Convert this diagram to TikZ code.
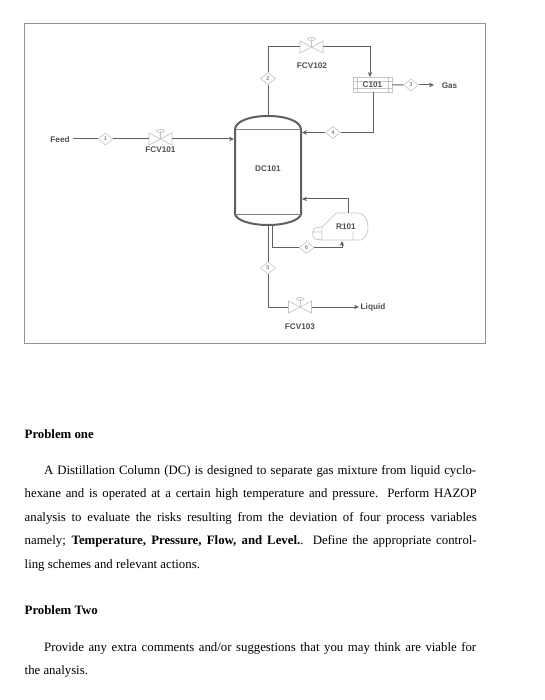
\documentclass[tikz,border=0pt]{standalone}
\usepackage{fontspec}
\setmainfont{Liberation Serif}
\setsansfont{Liberation Sans}
\usetikzlibrary{arrows.meta,shapes.geometric}
\definecolor{pipe}{HTML}{606060}
\definecolor{pale}{HTML}{C4C4C4}
\definecolor{lab}{HTML}{505050}
\tikzset{
  pipeline/.style={draw=pipe,line width=1pt},
  flow/.style={pipeline,-{Stealth[length=5pt,width=4.5pt]}},
  tag/.style={diamond,draw=pale,fill=white,line width=0.6pt,inner sep=0pt,minimum width=15pt,minimum height=12pt,font=\sffamily\fontsize{5.5}{6}\selectfont,text=lab},
  equip/.style={draw=pale,line width=0.7pt},
  lbl/.style={font=\sffamily\bfseries\fontsize{8.2}{10}\selectfont,text=lab,inner sep=0pt},
  body/.style={font=\fontsize{12.8}{15}\selectfont,text=black,inner sep=0pt,anchor=base west},
  valvebox/.style={minimum width=23pt,minimum height=12pt,inner sep=0pt},
  pics/valveicon/.style={code={
    \draw[equip] (-11.5,-6)--(11.5,6)--(11.5,-6)--(-11.5,6)--cycle;
    \draw[equip] (0,0)--(0,-8);
    \draw[equip] (0,-8) ellipse (4 and 1.6);
  }}
}
\begin{document}
\begin{tikzpicture}[x=1pt,y=-1pt]
\useasboundingbox (0,0) rectangle (545,700);
\fill[white] (0,0) rectangle (545,700);
\draw[draw=gray!85,line width=0.8pt] (24.5,23.5) rectangle (485,343);

% valves
\node[valvebox] (v1) at (160.5,139) {}; \pic at (160.5,139) {valveicon};
\node[valvebox] (v2) at (311.5,47) {}; \pic at (311.5,47) {valveicon};
\node[valvebox] (v3) at (300,307) {}; \pic at (300,307) {valveicon};

% column
\node[minimum width=67pt,minimum height=110pt,inner sep=0pt] (dc) at (268,170.5) {};
\node[lbl] (dclabel) at (268,169) {DC101};
\draw[draw=pipe,line width=2pt] (235,129) .. controls (236,121) and (250,116) .. (268,116) .. controls (286,116) and (300,121) .. (301,129) -- (301,214) .. controls (300,220) and (286,225) .. (268,225) .. controls (250,225) and (236,220) .. (235,214) -- cycle;
\draw[draw=gray,line width=0.7pt] (235,129) -- (301,129) (235,214) -- (301,214);

% C101
\node[draw=pale,line width=0.7pt,minimum width=39pt,minimum height=15pt,inner sep=0pt] (c1) at (372.5,84.5) {};
\draw[equip] (357,77)--(357,92) (388,77)--(388,92) (353,81)--(392,81) (353,88)--(392,88);
\node[lbl] (c1label) at (372.5,84.5) {C101};

% R101
\node[minimum width=56pt,minimum height=27pt,inner sep=0pt] (r1) at (340,227) {};
\draw[equip] (336,213) -- (358,213) .. controls (365,214) and (368,220) .. (368,227) .. controls (368,233) and (366,238) .. (361,240) -- (322,240) -- (322,227) -- (336,213)
  (322,227) -- (315,228) .. controls (312,229) and (312,238) .. (315,239) -- (322,240)
  (312,232) -- (322,232) (353,232) -- (353,240);
\node[lbl] (r1label) at (346,227) {R101};

% free labels
\node[lbl] (feed) at (60,139.5) {Feed};
\node[lbl] (gas) at (449.5,86) {Gas};
\node[lbl] (liquid) at (373,307) {Liquid};
\node[lbl] (l1) at (160.5,149.5) {FCV101};
\node[lbl] (l2) at (312,66) {FCV102};
\node[lbl] (l3) at (300,327) {FCV103};

% tags
\node[tag] (d1) at (105.5,139) {1};
\node[tag] (d2) at (268,78.5) {2};
\node[tag] (d3) at (411,85) {3};
\node[tag] (d4) at (333,132.5) {4};
\node[tag] (d5) at (268,268) {5};
\node[tag] (d6) at (306.5,247.5) {6};

% connectors
\coordinate (a1) at (268,116);
\coordinate (a2) at (268,47);
\coordinate (a3) at (370,47);
\coordinate (a4) at (373,132.5);
\coordinate (a5) at (302,132.5);
\coordinate (a6) at (434,85);
\coordinate (a7) at (348,213);
\coordinate (a8) at (348,199);
\coordinate (a9) at (302,199);
\coordinate (a10) at (272,225);
\coordinate (a11) at (272,247.5);
\coordinate (a12) at (342,247.5);
\coordinate (a13) at (342,241);
\coordinate (a14) at (268,225);
\coordinate (a15) at (268,307);
\coordinate (a16) at (359,307);
\coordinate (a17) at (234,139);
\coordinate (a18) at (373,92);
\coordinate (a19) at (370,77);
\coordinate (a20) at (73,139);

\draw[pipeline] (a20) -- (d1);
\draw[pipeline] (d1) -- (v1);
\draw[flow] (v1) -- (a17);
\draw[pipeline] (a1) -- (d2);
\draw[pipeline] (d2) -- (a2) -- (v2);
\draw[flow] (v2) -- (a3) -- (a19);
\draw[pipeline] (c1) -- (d3);
\draw[flow] (d3) -- (a6);
\draw[pipeline] (a18) -- (a4) -- (d4);
\draw[flow] (d4) -- (a5);
\draw[flow] (a7) -- (a8) -- (a9);
\draw[pipeline] (a10) -- (a11) -- (d6);
\draw[flow] (d6) -- (a12) -- (a13);
\draw[pipeline] (a14) -- (d5);
\draw[pipeline] (d5) -- (a15) -- (v3);
\draw[flow] (v3) -- (a16);

% text
\node[body,font=\fontsize{12.8}{15}\selectfont\bfseries] (p1) at (24.5,438) {Problem one};
\node[body] (t1) at (44,474) {\makebox[432pt][s]{A Distillation Column (DC) is designed to separate gas mixture from liquid cyclo-}};
\node[body] (t2) at (24.5,497) {\makebox[452pt][s]{hexane and is operated at a certain high temperature and pressure. Perform HAZOP}};
\node[body] (t3) at (24.5,521) {\makebox[452pt][s]{analysis to evaluate the risks resulting from the deviation of four process variables}};
\node[body] (t4) at (24.5,544) {\makebox[452pt][s]{namely; \textbf{Temperature, Pressure, Flow, and Level.}. Define the appropriate control-}};
\node[body] (t5) at (24.5,568) {ling schemes and relevant actions.};
\node[body,font=\fontsize{12.8}{15}\selectfont\bfseries] (p2) at (24.5,614) {Problem Two};
\node[body] (t6) at (44,651) {\makebox[432pt][s]{Provide any extra comments and/or suggestions that you may think are viable for}};
\node[body] (t7) at (24.5,674) {the analysis.};
\end{tikzpicture}
\end{document}
